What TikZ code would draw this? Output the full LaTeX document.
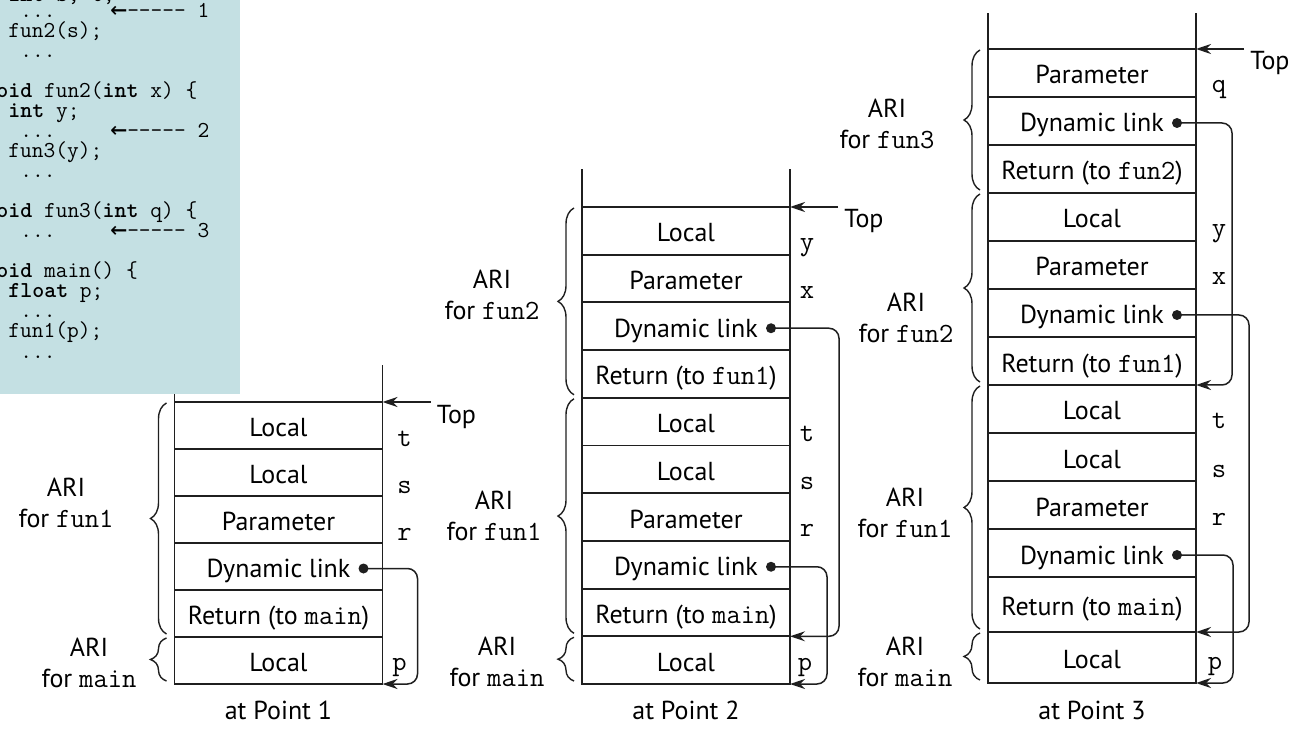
\documentclass[tikz,border=0pt]{standalone}
\usepackage{fontspec}
\setmainfont{PT Sans}
\newfontfamily\arrowfont{DejaVu Sans Mono}
\usetikzlibrary{arrows.meta,positioning,calc,decorations.pathreplacing}
\definecolor{codebg}{HTML}{C4E0E3}
\definecolor{ink}{HTML}{1F1F1F}
\newcommand{\lblsize}{\fontsize{13}{15.5}\selectfont}
\newcommand{\cd}[1]{{\fontsize{13.9}{15.5}\selectfont\ttfamily #1}}
\tikzset{
  cell/.style={draw=ink,line width=0.9pt,minimum width=104pt,inner sep=0pt,
               outer sep=0pt,text height=12pt,text depth=1pt},
  rail/.style={draw=ink,line width=0.9pt},
  linkdot/.style={circle,fill=ink,inner sep=0pt,minimum size=5pt},
  dynlink/.style={-{Stealth[length=7.5pt,width=5pt,inset=2.5pt]},line width=0.75pt,
                  ink,rounded corners=5pt},
  toparrow/.style={-{Stealth[length=7.5pt,width=5pt,inset=2.5pt]},line width=0.75pt,ink},
  ari/.style={decorate,decoration={brace,amplitude=8pt},line width=0.7pt,ink},
  arilbl/.style={align=center,inner sep=0pt},
  varlbl/.style={font=\fontsize{13.9}{15.5}\selectfont\ttfamily,anchor=base,inner sep=0pt},
  toplbl/.style={anchor=base west,inner sep=0pt},
  codeln/.style={font=\fontsize{11.4}{11.4}\selectfont\ttfamily,anchor=base west,
                 inner sep=0pt},
}
\begin{document}
\begin{tikzpicture}[x=0.5pt,y=-0.5pt,font=\lblsize]
  \useasboundingbox (0,0) rectangle (1311,737);
  % stack at point 1
  \foreach \txt [count=\i] in {Local,Local,Parameter,Dynamic link,
      {Return (to \cd{main})},Local}
    \node[cell,minimum height=23.5pt] (a\i) at (278.5,{402+47*(\i-0.5)}) {\txt};
  \draw[rail] (a1.north west) -- ++(0,-37);
  \draw[rail] (a1.north east) -- ++(0,-37);
  \coordinate (atop) at ($(a1.north east)+(48,0)$);
  \draw[toparrow] (atop) -- (a1.north east);
  \node[toplbl] (atoplbl) at ($(atop)+(6,21)$) {Top};
  \foreach \r/\v in {1/t,2/s,3/r}
    \node[varlbl] (av\r) at ($(a\r.south east)+(22,-3)$) {\v};
  \node[varlbl] (av6) at ($(a6.south east)+(17,-14)$) {p};
  \node[linkdot] (a4d) at ($(a4.east)+(-19,2)$) {};
  \draw[dynlink] (a4d.center) -- ++(54,0) |- (a6.south east);
  \draw[ari] ($(a5.south west)+(-8,-3)$) -- ($(a1.north west)+(-8,1)$);
  \draw[ari] ($(a6.south west)+(-8,-3)$) -- ($(a6.north west)+(-8,1)$);
  \node[arilbl] (aarifun1) at (66,503) {ARI\\for \cd{fun1}};
  \node[arilbl] (aarimain) at (89,663) {ARI\\for \cd{main}};
  \node (apt) at (278.5,710) {at Point 1};
  % stack at point 2
  \foreach \txt [count=\i] in {Local,Parameter,Dynamic link,
      {Return (to \cd{fun1})},Local,Local,Parameter,Dynamic link,
      {Return (to \cd{main})},Local}
    \node[cell,minimum height=23.85pt] (b\i) at (686,{207+47.7*(\i-0.5)}) {\txt};
  \draw[rail] (b1.north west) -- ++(0,-38);
  \draw[rail] (b1.north east) -- ++(0,-38);
  \coordinate (btop) at ($(b1.north east)+(48,0)$);
  \draw[toparrow] (btop) -- (b1.north east);
  \node[toplbl] (btoplbl) at ($(btop)+(6,21)$) {Top};
  \foreach \r/\v in {1/y,2/x,5/t,6/s,7/r}
    \node[varlbl] (bv\r) at ($(b\r.south east)+(17,-4)$) {\v};
  \node[varlbl] (bv10) at ($(b10.south east)+(15,-14)$) {p};
  \node[linkdot] (b3d) at ($(b3.east)+(-19,2)$) {};
  \node[linkdot] (b8d) at ($(b8.east)+(-19,2)$) {};
  \draw[dynlink] (b3d.center) -- ++(68,0) |- (b9.south east);
  \draw[dynlink] (b8d.center) -- ++(56,0) |- (b10.south east);
  \draw[ari] ($(b4.south west)+(-8,-3)$) -- ($(b1.north west)+(-8,1)$);
  \draw[ari] ($(b9.south west)+(-8,-3)$) -- ($(b5.north west)+(-8,1)$);
  \draw[ari] ($(b10.south west)+(-8,-3)$) -- ($(b10.north west)+(-8,1)$);
  \node[arilbl] (barifun2) at (492,295) {ARI\\for \cd{fun2}};
  \node[arilbl] (barifun1) at (494,516) {ARI\\for \cd{fun1}};
  \node[arilbl] (barimain) at (497,662) {ARI\\for \cd{main}};
  \node (bpt) at (686,710) {at Point 2};
  % stack at point 3
  \foreach \txt [count=\i] in {Parameter,Dynamic link,
      {Return (to \cd{fun2})},Local,Parameter,Dynamic link,
      {Return (to \cd{fun1})},Local,Local,Parameter,Dynamic link}
    \node[cell,minimum height=24pt] (c\i) at (1092,{49+48*(\i-0.5)}) {\txt};
  \node[cell,minimum height=27.5pt,below=0pt of c11] (c12)
    {Return (to \cd{main})};
  \node[cell,minimum height=25.5pt,below=0pt of c12] (c13) {Local};
  \draw[rail] (c1.north west) -- ++(0,-36);
  \draw[rail] (c1.north east) -- ++(0,-36);
  \coordinate (ctop) at ($(c1.north east)+(48,0)$);
  \draw[toparrow] (ctop) -- (c1.north east);
  \node[toplbl] (ctoplbl) at ($(ctop)+(6,21)$) {Top};
  \foreach \r/\v in {1/q,4/y,5/x,8/t,9/s,10/r}
    \node[varlbl] (cv\r) at ($(c\r.south east)+(23,-4)$) {\v};
  \node[varlbl] (cv13) at ($(c13.south east)+(19,-14)$) {p};
  \node[linkdot] (c2d) at ($(c2.east)+(-19,2)$) {};
  \node[linkdot] (c6d) at ($(c6.east)+(-19,2)$) {};
  \node[linkdot] (c11d) at ($(c11.east)+(-19,2)$) {};
  \draw[dynlink] (c2d.center) -- ++(55,0) |- (c7.south east);
  \draw[dynlink] (c6d.center) -- ++(72,0) |- (c12.south east);
  \draw[dynlink] (c11d.center) -- ++(56,0) |- (c13.south east);
  \draw[ari] ($(c3.south west)+(-8,-3)$) -- ($(c1.north west)+(-8,1)$);
  \draw[ari] ($(c7.south west)+(-8,-3)$) -- ($(c4.north west)+(-8,1)$);
  \draw[ari] ($(c12.south west)+(-8,-3)$) -- ($(c8.north west)+(-8,1)$);
  \draw[ari] ($(c13.south west)+(-8,-3)$) -- ($(c13.north west)+(-8,1)$);
  \node[arilbl] (carifun3) at (887,124) {ARI\\for \cd{fun3}};
  \node[arilbl] (carifun2) at (906,318) {ARI\\for \cd{fun2}};
  \node[arilbl] (carifun1) at (905,513) {ARI\\for \cd{fun1}};
  \node[arilbl] (carimain) at (905,662) {ARI\\for \cd{main}};
  \node (cpt) at (1092,710) {at Point 3};
  % code box, cut by the page edge
  \fill[codebg] (-10,-10) rectangle (240,394);
  \foreach \y/\c/\ln in {2/2/{\textbf{int} s, t;},18/3/{...},38/2/{fun2(s);},
      58/3/{...},98/0/{\textbf{void} fun2(\textbf{int} x) \{},
      118/2/{\textbf{int} y;},138/3/{...},158/2/{fun3(y);},178/3/{...},
      218/0/{\textbf{void} fun3(\textbf{int} q) \{},238/3/{...},
      278/0/{\textbf{void} main() \{},298/2/{\textbf{float} p;},318/3/{...},
      338/2/{fun1(p);},358/3/{...}}
    \node[codeln] (ln\y) at ({-16+12*\c},\y) {\ln};
  \foreach \y/\n in {18/1,138/2,238/3}
    \node[codeln] (mark\n) at (110,\y)
      {{\arrowfont\fontsize{14}{10}\selectfont\raisebox{-0.5pt}{←}}----- \n};
\end{tikzpicture}
\end{document}
